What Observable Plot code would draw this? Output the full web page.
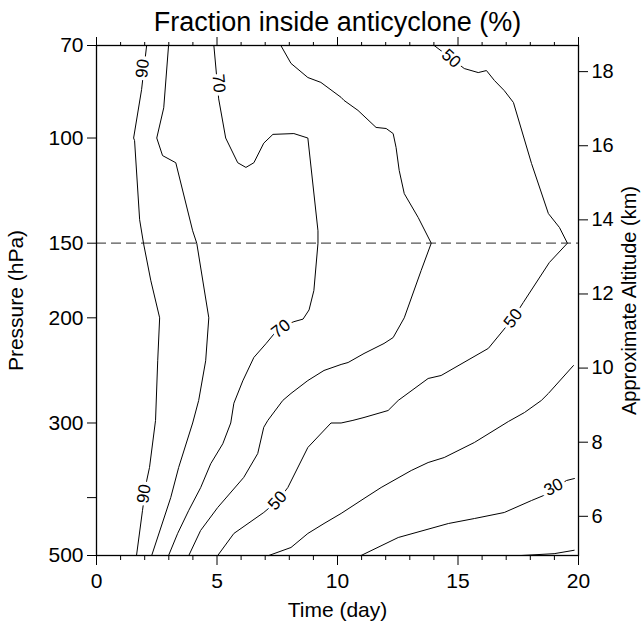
<!DOCTYPE html>
<html>
<head>
<meta charset="utf-8">
<script src="https://cdn.jsdelivr.net/npm/d3@7"></script>
<script src="https://cdn.jsdelivr.net/npm/@observablehq/plot@0.6"></script>
<style>
  html, body { margin: 0; padding: 0; background: white; }
  #chart svg { display: block; }
</style>
</head>
<body>
<div id="chart"></div>
<script>
// ---- Data: [day, pressure hPa] along each contour ----
const levels = [90, 80, 70, 60, 50, 40, 30, 20];

const c90 = [[2.08,70],[1.87,83],[1.54,100],[1.58,101],[1.79,137],[1.95,150],[2.25,173],[2.62,200],[2.54,236],[2.45,297],[2.2,356],[2.08,375],[1.91,420],[1.66,500]];
const c80 = [[2.99,70],[2.79,89],[2.5,100],[2.74,107],[3.29,110],[3.99,143],[4.16,150],[4.66,200],[4.53,236],[4.24,275],[3.99,300],[3.41,356],[3.08,400],[2.29,500]];
const c70 = [[4.87,70],[5.07,86],[5.36,100],[5.86,110],[6.2,112],[6.53,110],[6.94,102],[7.32,98.6],[8.19,98.3],[8.77,100],[9.19,143],[9.19,150],[9.02,180],[8.82,194],[8.57,201],[8.19,203],[7.57,208],[7.03,221],[6.53,233],[6.07,255],[5.7,278],[5.57,300],[5.24,325],[4.74,351],[4.32,385],[3.83,420],[3.37,459],[2.99,500]];
const c60 = [[7.65,70],[8.07,75],[8.77,79.2],[9.31,80.7],[10.15,85.5],[10.27,86.5],[10.85,89.9],[11.6,96],[12.02,96.4],[12.31,98.3],[12.43,103.7],[12.56,113.3],[12.77,123.9],[13.35,135.9],[13.89,150],[13.47,166.7],[12.77,200],[12.31,215.8],[11.93,220.8],[11.1,229.5],[10.44,237.6],[10.15,239.4],[9.44,245],[8.77,254.7],[8.07,267.7],[7.73,275],[7.11,297],[6.94,305],[6.69,337.5],[6.11,370],[5.03,415.5],[4.32,454],[3.83,500]];
const c50 = [[14.01,70],[14.72,73.6],[15.26,76.5],[15.84,77.7],[16.18,77.1],[16.51,80.1],[16.92,83.3],[17.3,87.2],[18.05,110.3],[18.75,133.8],[19.21,141.2],[19.54,150],[18.79,161.6],[17.71,188.5],[17.3,200],[16.26,225],[14.3,249.8],[13.76,252.7],[12.52,275],[12.1,285.9],[11.1,293.7],[10.64,297],[10.15,300],[9.73,300],[8.77,329.7],[7.94,384.7],[7.53,404.5],[6.94,423.6],[5.7,459.3],[5.03,500]];
const c40 = [[7.15,500],[8.07,484.8],[8.77,459.3],[9.44,442],[10.15,425.2],[11.1,401.4],[11.81,384.7],[13.06,360.3],[13.76,349.4],[14.43,342.7],[15.68,323.4],[17.09,298.3],[17.76,288.1],[18.46,275],[18.75,267.7],[19.79,240.4]];
const c30 = [[10.98,500],[12.52,466.5],[14.6,442],[15.68,433.6],[16.92,423.6],[18.05,404.5],[18.55,396.8],[19.5,374.5],[19.83,371.6]];
const c20 = [[17.63,500],[18.99,496.5],[19.82,490]];
const contours = [c90, c80, c70, c60, c50, c40, c30, c20];

// Contour labels
const labelText = ["90", "90", "70", "70", "50", "50", "50", "30"];
const labelDay  = [1.91, 1.97, 5.07, 7.65, 14.72, 17.29, 7.51, 18.96];
const labelP    = [76.5, 394, 81, 208.6, 73.6, 200.4, 404.5, 384.2];
const labelAngle = [-84, -81, 85, -38, 42, -53, -48, -28];

// Axes
const xMajor = [0, 5, 10, 15, 20];
const xMinor = [1, 2, 3, 4, 6, 7, 8, 9, 11, 12, 13, 14, 16, 17, 18, 19];
const pTicks = [70, 100, 150, 200, 300, 400, 500];
const pLabelled = [70, 100, 150, 200, 300, 500];
const altTicks = [6, 8, 10, 12, 14, 16, 18];
const dashedLevel = [150];

// ---- Build tables ----
const rows = [];
contours.forEach((c, k) => c.forEach(([day, p]) => rows.push({level: levels[k], day, p})));
const labels = labelText.map((t, i) => ({text: t, day: labelDay[i], p: labelP[i], angle: labelAngle[i]}));
// approximate altitude (km) -> pressure (hPa), scale height 7 km
const altP = altTicks.map(z => 1013 * Math.exp(-z / 7));

const font = "'Liberation Sans', Arial, Helvetica, sans-serif";

const chart = Plot.plot({
  width: 642,
  height: 622,
  marginTop: 45,
  marginBottom: 67,
  marginLeft: 96,
  marginRight: 64,
  style: {fontFamily: font, fontSize: "21px", background: "white", color: "black", overflow: "visible"},
  x: {domain: [0, 20]},
  y: {type: "log", domain: [70, 500], reverse: true},
  marks: [
    Plot.ruleY(dashedLevel, {stroke: "#555", strokeWidth: 1.2, strokeDasharray: "10,5"}),
    Plot.line(rows, {x: "day", y: "p", z: "level", stroke: "black", strokeWidth: 1, curve: "linear"}),
    Plot.text(labels, {x: "day", y: "p", text: "text", rotate: "angle", fontSize: 17, fill: "black",
      stroke: "white", strokeWidth: 7, paintOrder: "stroke"}),
    Plot.frame({stroke: "black", strokeWidth: 1.3}),
    // bottom axis
    Plot.axisX(xMajor, {anchor: "bottom", tickSize: 10, tickPadding: 8, fontSize: 21,
      tickFormat: d => String(d), label: "Time (day)", labelAnchor: "center", labelArrow: "none", labelOffset: 61}),
    Plot.axisX(xMinor, {anchor: "bottom", tickSize: 5, tickFormat: () => "", label: null}),
    // top axis
    Plot.axisX(xMajor, {anchor: "top", tickSize: 9, tickFormat: () => "", label: null}),
    Plot.axisX(xMinor, {anchor: "top", tickSize: 4, tickFormat: () => "", label: null}),
    // left axis
    Plot.axisY(pTicks, {anchor: "left", tickSize: 9, tickPadding: 4, fontSize: 21,
      tickFormat: d => pLabelled.includes(d) ? String(d) : "",
      label: "Pressure (hPa)", labelAnchor: "center", labelArrow: "none", labelOffset: 88}),
    // right axis (approximate altitude)
    Plot.axisY(altP, {anchor: "right", tickSize: 9, tickPadding: 4, fontSize: 20,
      tickFormat: d => String(Math.round(7 * Math.log(1013 / d))),
      label: "Approximate Altitude (km)", labelAnchor: "center", labelArrow: "none", labelOffset: 57}),
    // title
    Plot.text(["Fraction inside anticyclone (%)"], {frameAnchor: "top", dy: -23, fontSize: 27, text: d => d, lineAnchor: "middle"})
  ]
});
document.getElementById("chart").appendChild(chart);
</script>
</body>
</html>
